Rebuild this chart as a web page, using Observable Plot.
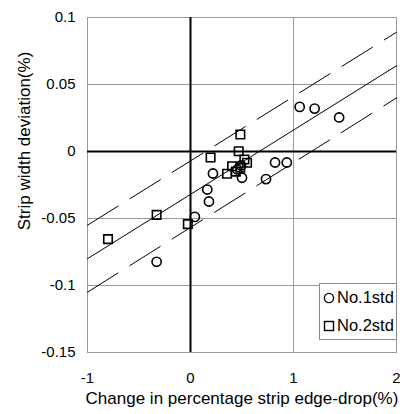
<!DOCTYPE html>
<html>
<head>
<meta charset="utf-8">
<script src="https://cdn.jsdelivr.net/npm/d3@7"></script>
<script src="https://cdn.jsdelivr.net/npm/@observablehq/plot@0.6"></script>
<style>
  html, body { margin: 0; padding: 0; background: #fff; }
  #wrap { position: relative; width: 406px; height: 414px; font-family: "Liberation Sans", Arial, sans-serif; }
  #legend { position: absolute; left: 319px; top: 283px; width: 78px; height: 57px; border: 1px solid #888; background: #fff; box-sizing: border-box; font-size: 16.5px; color: #000; }
  #legend .row { position: absolute; left: 3px; display: flex; align-items: center; gap: 2px; white-space: nowrap; }
</style>
</head>
<body>
<div id="wrap"></div>
<script>
// ---- data ----
const circleX = [1.06, 1.205, 1.443, 0.821, 0.935, 0.733, 0.50, 0.218, 0.163, 0.179, 0.042, -0.329, 0.455, 0.49];
const circleY = [0.0333, 0.032, 0.0254, -0.0082, -0.0082, -0.0206, -0.0196, -0.0164, -0.0284, -0.0373, -0.0488, -0.0823, -0.0134, -0.0104];
const squareX = [0.484, 0.468, 0.195, 0.523, 0.549, 0.404, 0.355, 0.44, 0.484, -0.329, -0.026, -0.801];
const squareY = [0.0127, 0.0002, -0.0045, -0.006, -0.0084, -0.011, -0.0166, -0.015, -0.012, -0.0473, -0.0542, -0.0654];
const lineEndX = [-1, 2];
const fitY = [-0.080, 0.064];
const upperY = [-0.055, 0.089];
const lowerY = [-0.105, 0.040];
const xTicks = [-1, 0, 1, 2];
const yTicks = [-0.15, -0.1, -0.05, 0, 0.05, 0.1];
const xLabel = "Change in percentage strip edge-drop(%)";
const yLabel = "Strip width deviation(%)";
const seriesNames = ["No.1std", "No.2std"];

const circles = circleX.map((x, i) => ({x, y: circleY[i]}));
const squares = squareX.map((x, i) => ({x, y: squareY[i]}));
const fit = lineEndX.map((x, i) => ({x, y: fitY[i]}));
const upper = lineEndX.map((x, i) => ({x, y: upperY[i]}));
const lower = lineEndX.map((x, i) => ({x, y: lowerY[i]}));

const chart = Plot.plot({
  width: 406,
  height: 414,
  marginLeft: 87,
  marginRight: 10,
  marginTop: 17,
  marginBottom: 62,
  style: {fontFamily: '"Liberation Sans", Arial, sans-serif', fontSize: "15px", color: "#000", background: "#fff"},
  x: {domain: [-1, 2]},
  y: {domain: [-0.15, 0.1]},
  marks: [
    Plot.gridY(yTicks, {stroke: "#9a9a9a", strokeOpacity: 1, strokeWidth: 1}),
    Plot.gridX(xTicks, {stroke: "#9a9a9a", strokeOpacity: 1, strokeWidth: 1}),
    Plot.frame({stroke: "#9a9a9a", strokeWidth: 1}),
    Plot.ruleY([0], {stroke: "#000", strokeWidth: 2}),
    Plot.ruleX([0], {stroke: "#000", strokeWidth: 2}),
    Plot.line(fit, {x: "x", y: "y", stroke: "#000", strokeWidth: 1}),
    Plot.line(upper, {x: "x", y: "y", stroke: "#000", strokeWidth: 1, strokeDasharray: "36,14"}),
    Plot.line(lower, {x: "x", y: "y", stroke: "#000", strokeWidth: 1, strokeDasharray: "36,14"}),
    Plot.dot(circles, {x: "x", y: "y", r: 4.6, symbol: "circle", stroke: "#000", strokeWidth: 1.6, fill: "none"}),
    Plot.dot(squares, {x: "x", y: "y", r: 4.8, symbol: "square", stroke: "#000", strokeWidth: 1.6, fill: "none"}),
    Plot.axisX({ticks: xTicks, tickSize: 0, tickPadding: 20, tickFormat: d => String(d), label: null, fontSize: 15}),
    Plot.axisY({ticks: yTicks, tickSize: 0, tickPadding: 12, tickFormat: d => String(d), label: null, fontSize: 15}),
    Plot.text([xLabel], {text: d => d, frameAnchor: "bottom", textAnchor: "middle", dy: 46, lineAnchor: "middle", fontSize: 17}),
    Plot.text([yLabel], {text: d => d, frameAnchor: "left", textAnchor: "middle", dx: -63, dy: -44, rotate: -90, lineAnchor: "middle", fontSize: 17})
  ]
});

const wrap = document.getElementById("wrap");
wrap.appendChild(chart);

// legend
const legend = document.createElement("div");
legend.id = "legend";
const syms = [
  '<svg width="12" height="12"><circle cx="6" cy="6" r="4.6" fill="none" stroke="#000" stroke-width="1.4"/></svg>',
  '<svg width="12" height="12"><rect x="1.5" y="1.5" width="9" height="9" fill="none" stroke="#000" stroke-width="1.4"/></svg>'
];
seriesNames.forEach((name, i) => {
  const row = document.createElement("div");
  row.className = "row";
  row.style.top = (i === 0 ? 4 : 32) + "px";
  row.innerHTML = syms[i] + "<span>" + name + "</span>";
  legend.appendChild(row);
});
wrap.appendChild(legend);
</script>
</body>
</html>
